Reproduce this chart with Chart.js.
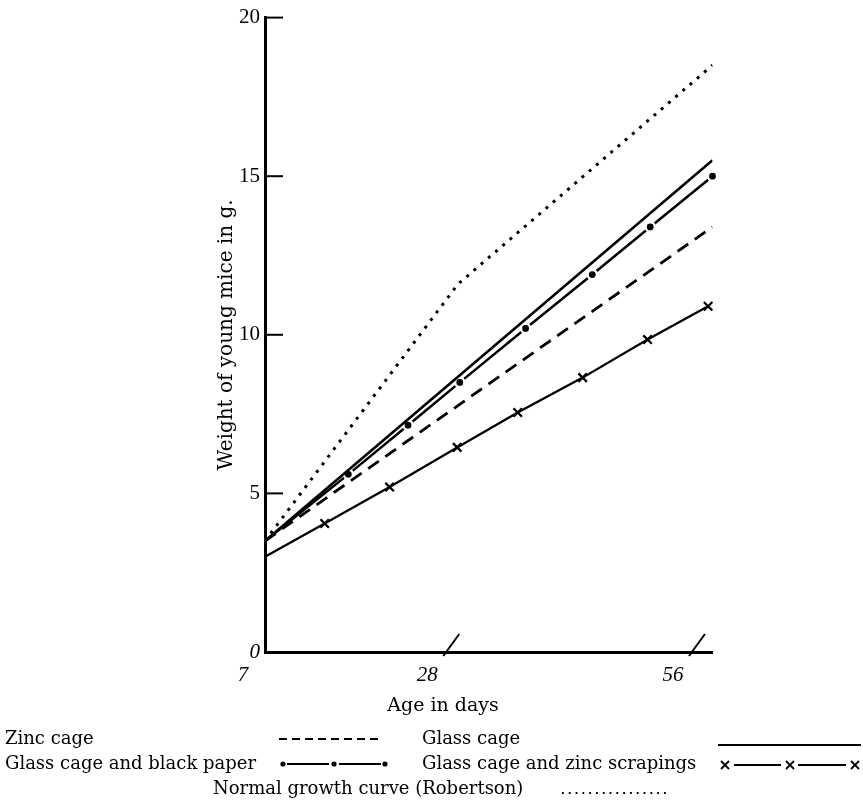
<!DOCTYPE html>
<html>
<head>
<meta charset="utf-8">
<script src="https://cdn.jsdelivr.net/npm/chart.js@4.4.1/dist/chart.umd.min.js"></script>
<style>
  html, body { margin: 0; padding: 0; background: #fff; }
  #wrap { position: relative; width: 863px; height: 804px; }
</style>
</head>
<body>
<div id="wrap"><canvas id="miceChart"></canvas></div>
<script>
// Age (days) and weight (g)
const xTicks = [7, 28, 56];
const yTicks = [0, 5, 10, 15, 20];

const glassDays = [7, 58];
const glassWeight = [3.5, 15.5];

const zincDays = [7, 58];
const zincWeight = [3.5, 13.4];

const robertsonDays = [7, 29, 58];
const robertsonWeight = [3.5, 11.6, 18.5];

const paperDays = [7, 16.5, 23.3, 29.2, 36.7, 44.3, 50.9, 58];
const paperWeight = [3.5, 5.6, 7.15, 8.5, 10.2, 11.9, 13.4, 15.0];

const scrapDays = [7, 13.8, 21.2, 28.9, 35.8, 43.2, 50.6, 57.5];
const scrapWeight = [3.0, 4.05, 5.2, 6.45, 7.55, 8.65, 9.85, 10.9];

const LEGEND_FONT = '18px "DejaVu Serif"';

function pts(days, vals) {
  return days.map((d, i) => ({ x: d, y: vals[i] }));
}

// legend samples + axis decorations drawn on top of the chart
const decor = {
  id: 'decor',
  afterDraw(chart) {
    const { ctx, chartArea, scales: { x, y } } = chart;
    ctx.save();
    ctx.strokeStyle = '#000';
    ctx.fillStyle = '#000';

    // inward tick marks on the weight axis
    ctx.lineWidth = 2;
    y.ticks.forEach(t => {
      if (t.value === 0) return;
      const py = y.getPixelForValue(t.value);
      ctx.beginPath();
      ctx.moveTo(chartArea.left, py);
      ctx.lineTo(chartArea.left + 18, py);
      ctx.stroke();
    });

    // slanted tick marks on the age axis
    x.ticks.forEach(t => {
      if (t.value === 7) return;
      const px = x.getPixelForValue(t.value);
      ctx.beginPath();
      ctx.moveTo(px - 6, chartArea.bottom + 4);
      ctx.lineTo(px + 10, chartArea.bottom - 18);
      ctx.stroke();
    });

    ctx.font = '19px "DejaVu Serif"';
    ctx.textAlign = 'center';
    ctx.textBaseline = 'alphabetic';
    ctx.fillText('Age in days', 443, 711);

    // legend
    ctx.font = LEGEND_FONT;
    ctx.textAlign = 'left';
    ctx.fillText('Zinc cage', 5, 744);
    ctx.fillText('Glass cage', 422, 744);
    ctx.fillText('Glass cage and black paper', 5, 769);
    ctx.fillText('Glass cage and zinc scrapings', 422, 769);
    ctx.fillText('Normal growth curve (Robertson)', 213, 794);

    ctx.lineWidth = 1.8;
    // dashed
    ctx.setLineDash([8, 5]);
    ctx.beginPath(); ctx.moveTo(279, 739); ctx.lineTo(382, 739); ctx.stroke();
    // dotted
    ctx.lineWidth = 2;
    ctx.setLineDash([1.8, 5]);
    ctx.beginPath(); ctx.moveTo(562, 793); ctx.lineTo(666, 793); ctx.stroke();
    ctx.setLineDash([]);
    ctx.lineWidth = 1.8;
    // solid
    ctx.beginPath(); ctx.moveTo(718, 745); ctx.lineTo(861, 745); ctx.stroke();
    // dots and line
    ctx.beginPath(); ctx.moveTo(287, 764); ctx.lineTo(329, 764); ctx.moveTo(339, 764); ctx.lineTo(381, 764); ctx.stroke();
    [283, 334, 385].forEach(px => {
      ctx.beginPath(); ctx.arc(px, 764, 2.6, 0, Math.PI * 2); ctx.fill();
    });
    // crosses and line
    ctx.beginPath(); ctx.moveTo(734, 765); ctx.lineTo(781, 765); ctx.moveTo(798, 765); ctx.lineTo(846, 765); ctx.stroke();
    [725, 790, 855].forEach(px => {
      ctx.beginPath();
      ctx.moveTo(px - 4, 761); ctx.lineTo(px + 4, 769);
      ctx.moveTo(px + 4, 761); ctx.lineTo(px - 4, 769);
      ctx.stroke();
    });
    ctx.restore();
  }
};

const ctx = document.getElementById('miceChart').getContext('2d');

const miceChart = new Chart(ctx, {
  type: 'line',
  data: {
    datasets: [
      {
        label: 'Normal growth curve (Robertson)',
        data: pts(robertsonDays, robertsonWeight),
        borderColor: '#000',
        borderWidth: 3,
        borderDash: [3, 6.5],
        pointRadius: 0
      },
      {
        label: 'Glass cage',
        data: pts(glassDays, glassWeight),
        borderColor: '#000',
        borderWidth: 2.6,
        pointRadius: 0
      },
      {
        label: 'Zinc cage',
        data: pts(zincDays, zincWeight),
        borderColor: '#000',
        borderWidth: 2.8,
        borderDash: [13, 8],
        pointRadius: 0
      },
      {
        label: 'Glass cage and black paper',
        data: pts(paperDays, paperWeight),
        clip: 10,
        borderColor: '#000',
        borderWidth: 2.5,
        pointStyle: 'circle',
        pointRadius: paperDays.map((d, i) => i === 0 ? 0 : 4.6),
        pointBackgroundColor: '#000',
        pointBorderColor: '#fff',
        pointBorderWidth: 2.4
      },
      {
        label: 'Glass cage and zinc scrapings',
        data: pts(scrapDays, scrapWeight),
        clip: 10,
        borderColor: '#000',
        borderWidth: 2.3,
        pointStyle: 'crossRot',
        pointRadius: scrapDays.map((d, i) => i === 0 ? 0 : 6),
        pointBorderColor: '#000',
        pointBorderWidth: 2.3
      }
    ]
  },
  options: {
    responsive: true,
    maintainAspectRatio: false,
    animation: false,
    layout: {
      padding: { left: 215, right: 150.5, top: 15, bottom: 112 }
    },
    plugins: {
      legend: { display: false },
      tooltip: { enabled: false },
      title: { display: false }
    },
    scales: {
      x: {
        type: 'linear',
        min: 7,
        max: 58,
        afterBuildTicks: scale => {
          scale.ticks = xTicks.map(v => ({ value: v }));
        },
        afterFit: scale => { scale.height = 40; },
        grid: { display: false, drawTicks: false },
        border: { display: true, color: '#000', width: 3 },
        ticks: {
          color: '#000',
          padding: 11,
          labelOffset: -22,
          maxRotation: 0,
          font: { family: '"Liberation Serif"', size: 21, style: 'italic' }
        }
      },
      y: {
        min: 0,
        max: 20,
        afterBuildTicks: scale => {
          scale.ticks = yTicks.map(v => ({ value: v }));
        },
        afterFit: scale => { scale.width = 50; },
        grid: { display: false, drawTicks: false },
        border: { display: true, color: '#000', width: 3 },
        ticks: {
          color: '#000',
          padding: 5,
          font: c => ({
            family: '"Liberation Serif"',
            size: 21,
            style: c.tick && c.tick.value === 0 ? 'italic' : 'normal'
          })
        },
        title: {
          display: true,
          text: 'Weight of young mice in g.',
          color: '#000',
          padding: 0,
          font: { family: '"DejaVu Serif"', size: 20 }
        }
      }
    }
  },
  plugins: [decor]
});
</script>
</body>
</html>
